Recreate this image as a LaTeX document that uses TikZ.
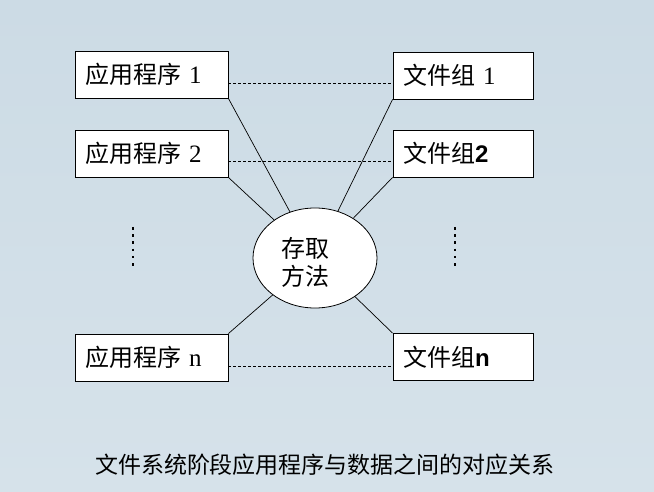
\documentclass[tikz,border=0pt]{standalone}
\usepackage{fontspec}
\setmainfont{Liberation Serif}
\newfontfamily\cjk{Noto Sans CJK SC}
\newfontfamily\arialb{Liberation Sans}
\usetikzlibrary{shapes.geometric}

\definecolor{fondo}{RGB}{204,219,229}
\definecolor{fondoclaro}{RGB}{214,226,234}

\tikzset{
    caja/.style={draw, fill=white, line width=0.8pt, minimum height=47pt,
        inner xsep=10pt, inner ysep=0pt, align=left, font=\cjk\fontsize{24}{27}\selectfont},
    cajaapp/.style={caja, minimum width=153pt, text width=133pt},
    cajaarch/.style={caja, minimum width=140pt, text width=120pt},
    enlace/.style={line width=0.7pt},
    guion/.style={line width=0.7pt, dash pattern=on 3pt off 2pt},
    puntos/.style={line width=2.6pt, dash pattern=on 2.6pt off 4.6pt}
}

\begin{document}
\begin{tikzpicture}[x=1pt, y=-1pt]

        % ===============================
        % Fondo y marco
        % ===============================
        \shade[top color=fondo, bottom color=fondoclaro] (0,0) rectangle (654,492);
        \useasboundingbox (0,0) rectangle (654,492);

        % ===============================
        % Programas de aplicación
        % ===============================
        \node[cajaapp] (app1) at (151.5,74.5)  {应用程序 {\rmfamily\fontsize{25}{27}\selectfont 1}};
        \node[cajaapp] (app2) at (151.5,153.5) {应用程序 {\rmfamily\fontsize{25}{27}\selectfont 2}};
        \node[cajaapp] (appn) at (151.5,357.5) {应用程序 {\rmfamily\fontsize{25}{27}\selectfont n}};

        % ===============================
        % Grupos de archivos
        % ===============================
        \node[cajaarch] (arch1) at (463,75.5)  {文件组 {\rmfamily\fontsize{25}{27}\selectfont 1}};
        \node[cajaarch] (arch2) at (463,153.5) {文件组{\arialb\bfseries 2}};
        \node[cajaarch] (archn) at (463,357)   {文件组{\arialb\bfseries n}};

        % Método de acceso
        \node[ellipse, draw, fill=white, line width=0.8pt, minimum width=124pt,
            minimum height=100pt, inner sep=0pt] (acceso) at (315,258) {};
        \node[align=center, font=\cjk\fontsize{24}{28}\selectfont] (acceso-texto)
            at (305,262) {存取\\方法};

        % ===============================
        % Conexiones
        % ===============================
        \foreach \n in {app1.south east, app2.south east, appn.north east,
                arch1.south west, arch2.south west, archn.north west}{
                \draw[enlace] (\n) -- (acceso);
            }

        \draw[guion] (app1.east |- 0,83)  -- (arch1.west |- 0,83);
        \draw[guion] (app2.east |- 0,161) -- (arch2.west |- 0,161);
        \draw[guion] (appn.east |- 0,366) -- (archn.west |- 0,366);

        % Puntos suspensivos
        \coordinate (susp1a) at (133,227);
        \coordinate (susp1b) at (133,268);
        \coordinate (susp2a) at (455,227);
        \coordinate (susp2b) at (455,268);
        \draw[puntos] (susp1a) -- (susp1b);
        \draw[puntos] (susp2a) -- (susp2b);

        % ===============================
        % Leyenda
        % ===============================
        \node[font=\cjk\fontsize{23}{25}\selectfont] (leyenda) at (325,465)
            {文件系统阶段应用程序与数据之间的对应关系};

    \end{tikzpicture}
\end{document}
